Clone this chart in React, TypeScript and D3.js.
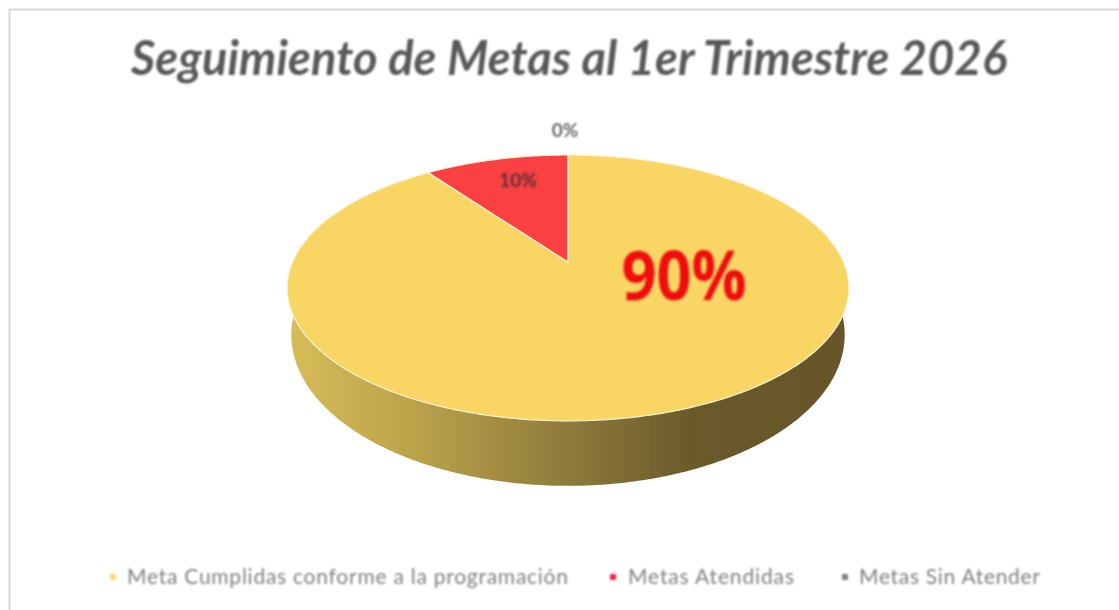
import React from "react";
import * as d3 from "d3";

const categories = ["Meta Cumplidas conforme a la programación", "Metas Atendidas", "Metas Sin Atender"];
const shares = [0.9, 0.1, 0];
const colors = ["#F9D563", "#FB3F42", "#7F7F7F"];
const wallStops = [
  ["0%", "#D8BC58"], ["22%", "#BBA34B"], ["50%", "#8E7A3C"], ["72%", "#6A5A2B"], ["100%", "#66562A"],
];
const titleText = "Seguimiento de Metas al 1er Trimestre 2026";

const W = 1119, H = 610;
const cx = 568, apexY = 262, persp = 0.195, bx = 275.5, by = 127.9;

const project = (t: number, dy = 0, sx = 1, sy = 1): [number, number] => {
  const u = Math.sin(t), v = Math.cos(t);
  const d = 1 + persp * v;
  return [cx + (sx * bx * u) / d, apexY + dy - (sy * by * v) / d];
};

const line = d3.line<[number, number]>().x(d => d[0]).y(d => d[1]);
const pct = d3.format(".0%");
const pieAngles = d3.pie<number>().sort(null).value(d => d)(shares);

const sector = (a0: number, a1: number) => {
  const n = Math.max(2, Math.ceil((a1 - a0) / 0.01));
  const pts = d3.range(n + 1).map(i => project(a0 + ((a1 - a0) * i) / n));
  return line([[cx, apexY], ...pts, [cx, apexY]]) + "Z";
};

const frontWall = () => {
  const a = Math.PI * 0.5 - 0.12, b = Math.PI * 1.5 + 0.12;
  const ts = d3.range(0, 241).map(i => a + ((b - a) * i) / 240);
  return line(ts.map(t => project(t, 43.5, 0.985, 1.135))) + "Z";
};

const legendX = [113, 613, 845];
const legendTextX = [127, 628, 859];
const legendW = [441, 166, 181];
const font = "Lato, 'Open Sans', sans-serif";

export default function App() {
  return (
    <svg width={W} height={H} viewBox={`0 0 ${W} ${H}`}
      style={{ position: "absolute", left: 0, top: 0, background: "#fff", fontFamily: font }}>
      <defs>
        <linearGradient id="wall" gradientUnits="userSpaceOnUse" x1={288} x2={849} y1={0} y2={0}>
          {wallStops.map(([o, c]) => <stop key={o} offset={o} stopColor={c} />)}
        </linearGradient>
        <filter id="soft" x="-5%" y="-5%" width="110%" height="110%"><feGaussianBlur stdDeviation="0.7" /></filter>
        <filter id="softer" x="-5%" y="-5%" width="110%" height="110%"><feGaussianBlur stdDeviation="0.8" /></filter>
      </defs>
      <path d={`M9.5,${H}V9.5H${W}`} fill="none" stroke="#D9D9D9" strokeWidth={2} filter="url(#soft)" />
      <g filter="url(#soft)">
        <path d={frontWall()} fill="url(#wall)" />
        {pieAngles.map((p, i) => p.value > 0 && (
          <path key={i} d={sector(p.startAngle, p.endAngle)} fill={colors[i]} stroke="#FFF3D6" strokeWidth={1.2} />
        ))}
      </g>
      <g filter="url(#softer)">
        <text x={569} y={75} textAnchor="middle" fontSize={47} fontWeight={700} fontStyle="italic" fill="#595959"
          textLength={876} lengthAdjust="spacing">{titleText}</text>
        <text x={684} y={300} textAnchor="middle" fontSize={68} fontWeight={700} fontFamily="'Open Sans', sans-serif" fill="#F01010"
          textLength={125} lengthAdjust="spacingAndGlyphs">{pct(shares[0])}</text>
        <text x={518} y={187} textAnchor="middle" fontSize={19} fontWeight={700} fill="#5A3236">{pct(shares[1])}</text>
        <text x={565} y={137} textAnchor="middle" fontSize={19} fontWeight={700} fill="#666666">{pct(shares[2])}</text>
        {categories.map((c, i) => (
          <g key={c}>
            <rect x={legendX[i] - 3} y={574} width={6} height={6} fill={i === 0 ? "#F5DC6A" : i === 1 ? "#E8263F" : colors[2]} />
            <text x={legendTextX[i]} y={584} fontSize={21} fill="#7F7F7F" textLength={legendW[i]} lengthAdjust="spacing">{c}</text>
          </g>
        ))}
      </g>
    </svg>
  );
}
